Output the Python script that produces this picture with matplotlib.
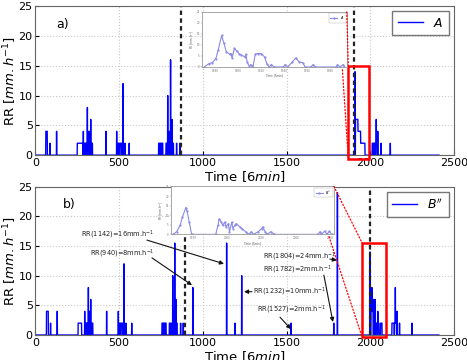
import numpy as np
import matplotlib
matplotlib.use('Agg')
import matplotlib.pyplot as plt
from matplotlib.patches import Rectangle, ConnectionPatch

# time axis of the rain-rate series (6 min steps)
t_end = 2410

# panel a) : plateaus (start, stop, value) and single spikes (time, value)
a_plateaus = [(62, 70, 4), (250, 282, 2), (292, 300, 2), (304, 308, 2), (313, 317, 2),
              (324, 328, 2), (334, 340, 2), (494, 500, 2), (506, 514, 2), (736, 740, 2),
              (745, 749, 2), (754, 760, 2), (780, 786, 2), (794, 798, 2), (810, 814, 2),
              (818, 824, 2), (1912, 1926, 6), (1926, 1942, 4), (1942, 1968, 2),
              (2012, 2018, 2), (2022, 2028, 2), (2032, 2040, 2)]
a_spikes = [(86, 2), (126, 4), (286, 4), (310, 8), (318, 4), (322, 4), (330, 6), (421, 4),
            (485, 4), (523, 12), (535, 2), (560, 2), (790, 10), (799, 4), (807, 16),
            (815, 6), (843, 2), (863, 2), (1909, 14), (2036, 6), (2045, 4), (2065, 2),
            (2120, 2)]

# panel b) : same as a) with inserted events
b_plateaus = [(66, 76, 4), (255, 275, 2), (296, 304, 2), (308, 312, 2), (318, 320, 2),
              (326, 330, 2), (336, 342, 2), (500, 506, 2), (512, 520, 2), (756, 760, 2),
              (765, 769, 2), (774, 780, 2), (800, 806, 2), (814, 818, 2), (834, 838, 2),
              (842, 846, 2), (2005, 2018, 4), (2022, 2028, 4), (2032, 2040, 2),
              (2046, 2052, 2), (2062, 2070, 2), (2130, 2142, 2), (2146, 2158, 2)]
b_spikes = [(90, 2), (130, 4), (294, 4), (316, 8), (322, 4), (330, 6), (425, 4), (495, 4),
            (529, 12), (541, 2), (575, 2), (820, 10), (828, 4), (832, 15.5), (839, 6),
            (867, 2), (883, 2), (940, 8), (1142, 15.5), (1192, 2), (1232, 10), (1527, 2),
            (1782, 2), (1804, 24), (1998, 14), (2010, 8), (2020, 6), (2030, 6), (2045, 4),
            (2150, 8), (2160, 4), (2175, 2), (2249, 2)]

a_vlines = [869, 1900]
b_vlines = [893, 1996]
a_zoom = (1869, 1994, -0.6, 14.9)
b_zoom = (1952, 2094, -0.4, 15.5)

# zoomed insets
ins_a_t = [1871, 1875, 1878, 1881, 1883, 1886, 1888, 1890, 1893, 1894, 1895, 1897, 1899,
           1901, 1903, 1906, 1907, 1908, 1910, 1911, 1913, 1915, 1917, 1920, 1923, 1925,
           1927, 1929, 1931, 1939, 1941, 1943, 1947, 1950, 1953, 1956, 1958, 1963, 1965,
           1967, 1985, 1986, 1988, 1991, 1992]
ins_a_rr = [0, 1.5, 2, 3.8, 7.7, 14.3, 10.7, 6.9, 5.7, 6.1, 4.1, 8.4, 7.2, 6.1, 5.4, 4.6,
            5.7, 2.3, 0, 1.1, 0, 5.7, 6.1, 6.1, 4.6, 1.5, 0, 1.1, 0, 0, 1.1, 0, 2.3, 4.1,
            2.3, 2, 0, 0, 1.1, 0, 0, 1.1, 0, 1.1, 0]
ins_b_t = [1953, 1956, 1959, 1961, 1964, 1965, 1967, 1969, 1990, 1992, 1993, 1995, 1996,
           1998, 1999, 2001, 2002, 2004, 2005, 2007, 2008, 2011, 2013, 2016, 2019, 2021,
           2023, 2027, 2030, 2031, 2033, 2035, 2038, 2041, 2079, 2081, 2082, 2085, 2087,
           2089, 2091]
ins_b_rr = [0, 1.4, 4.7, 8.9, 14, 12.3, 6.4, 0, 0, 4.7, 8.1, 6.4, 4.7, 6.4, 3.9, 5.6, 1.4,
            6.4, 3, 5.1, 5.6, 3.9, 3, 1.4, 0, 1.4, 0, 1.4, 3, 3.9, 1.4, 0, 1.4, 0, 0, 1.4,
            0, 1.7, 0, 1.7, 0]

# annotations of panel b: (text, text pos, arrow tail, arrow tip)
b_notes = [('RR(1142)=16mm.h$^{-1}$', (272, 16.9), (666, 16.0), (1126, 12.0)),
           ('RR(940)=8mm.h$^{-1}$', (326, 13.7), (696, 13.0), (935, 8.4)),
           ('RR(1804)=24mm.h$^{-1}$', (1359, 13.2), (1759, 12.8), (1801, 12.6)),
           ('RR(1782)=2mm.h$^{-1}$', (1359, 11.0), (1723, 10.1), (1777, 2.2)),
           ('RR(1232)=10mm.h$^{-1}$', (1300, 7.3), (1293, 7.3), (1246, 7.3)),
           ('RR(1527)=2mm.h$^{-1}$', (1323, 4.2), (1461, 3.0), (1526, 1.0))]


def build(plateaus, spikes):
    rr = np.zeros(t_end + 1)
    for s, e, v in plateaus:
        rr[s:e + 1] = np.maximum(rr[s:e + 1], v)
    for s, v in spikes:
        rr[s] = v
    return rr


def main_panel(ax, rr, label, letter, vlines, zoom):
    ax.plot(np.arange(t_end + 1), rr, color='#0000ff', lw=1, label=label)
    for v in vlines:
        ax.axvline(v, color='#222222', ls='--', lw=1.6, dashes=(2, 1.5))
    x0, x1, y0, y1 = zoom
    ax.add_patch(Rectangle((x0, y0), x1 - x0, y1 - y0, fill=False, ec='red', lw=1.8,
                           clip_on=False, zorder=5))
    ax.set_xlim(0, 2500)
    ax.set_ylim(0, 25)
    ax.set_xticks([0, 500, 1000, 1500, 2000, 2500])
    ax.set_yticks([0, 5, 10, 15, 20, 25])
    ax.grid(True, color='#c8c8c8', ls=':', lw=0.8)
    ax.tick_params(labelsize=8, direction='in', length=3, pad=2)
    for s in ax.spines.values():
        s.set_color('#666666')
    ax.set_xlabel('Time $[6min]$', fontsize=9.5, labelpad=1)
    ax.set_ylabel('RR $[mm.h^{-1}]$', fontsize=9.5, labelpad=0)
    ax.text(126 if letter == 'a)' else 162, 22, letter, fontsize=9, va='center')
    leg = ax.legend(loc='upper right', fontsize=9, fancybox=False, handlelength=2,
                    borderpad=0.45, borderaxespad=0.4)
    leg.get_frame().set_edgecolor('#555555')


def inset(fig, rect, t, rr, x_ticks, label):
    ia = fig.add_axes(rect)
    ia.plot(t, rr, color='#8a8ae8', lw=0.8, marker='.', ms=1.2, label=label)
    ia.set_xlim(t[0] - 2, t[-1] + 2)
    ia.set_ylim(0, 25)
    ia.set_xticks(x_ticks)
    ia.set_yticks([0, 5, 10, 15, 20, 25])
    ia.tick_params(labelsize=2, length=1, width=0.3, pad=0.5, colors='#777777')
    ia.set_xlabel('Time [6min]', fontsize=2, labelpad=0.5, color='#555555')
    ia.set_ylabel('RR [mm.h$^{-1}$]', fontsize=2, labelpad=0.5, color='#555555')
    for s in ia.spines.values():
        s.set_color('#999999')
        s.set_linewidth(0.6)
    lg = ia.legend(loc='upper right', fontsize=2.5, fancybox=False, handlelength=2,
                   borderpad=0.4, borderaxespad=0.3)
    lg.get_frame().set_linewidth(0.3)
    lg.get_frame().set_edgecolor('#999999')
    ia.set_zorder(10)
    return ia


fig = plt.figure(figsize=(4.67, 3.6), dpi=100)
ax_a = fig.add_axes([0.076, 0.569, 0.896, 0.414])
ax_b = fig.add_axes([0.076, 0.0694, 0.896, 0.412])

main_panel(ax_a, build(a_plateaus, a_spikes), '$A$', 'a)', a_vlines, a_zoom)
main_panel(ax_b, build(b_plateaus, b_spikes), "$B''$", 'b)', b_vlines, b_zoom)

for txt, pos, tail, tip in b_notes:
    ax_b.text(pos[0], pos[1], txt, fontsize=4.8, va='center', color='#222222')
    ax_b.annotate('', xy=tip, xytext=tail,
                  arrowprops=dict(arrowstyle='-|>', color='#111111', lw=0.8,
                                  mutation_scale=6, shrinkA=0, shrinkB=0))

ins_a = inset(fig, [0.4325, 0.814, 0.310, 0.153], ins_a_t, ins_a_rr,
              [1880, 1900, 1920, 1940, 1960, 1980], '$A$')
ins_b = inset(fig, [0.366, 0.349, 0.349, 0.133], ins_b_t, ins_b_rr,
              [1970, 2000, 2030, 2060, 2090], "$B''$")

for ia, ax, z in [(ins_a, ax_a, a_zoom), (ins_b, ax_b, b_zoom)]:
    for pa, pb in [((1, 1), (z[0], z[3])), ((0.97, -0.05), (z[0], z[2]))]:
        con = ConnectionPatch(xyA=pa, coordsA=ia.transAxes, xyB=pb, coordsB=ax.transData,
                              color='red', ls=':', lw=0.9)
        con.set_zorder(20)
        fig.add_artist(con)

fig.savefig('out.png', dpi=100)
